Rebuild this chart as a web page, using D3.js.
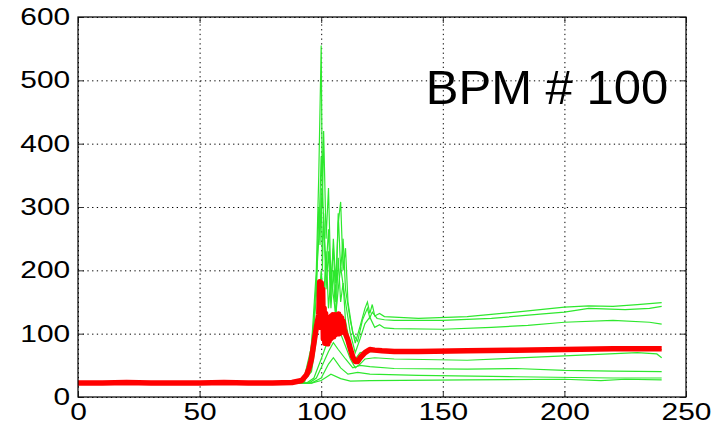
<!DOCTYPE html>
<html>
<head>
<meta charset="utf-8">
<script src="https://d3js.org/d3.v7.min.js"></script>
<style>
  body { margin: 0; background: #fff; }
  .tick text { font-family: "Liberation Sans", Arial, sans-serif; font-size: 23px; fill: #000; }
</style>
</head>
<body>
<div id="chart"></div>
<script>
// Chart size and plot area
var svgWidth = 714;
var svgHeight = 425;
var margin = { top: 17, right: 28, bottom: 28, left: 78 };
var width = svgWidth - margin.left - margin.right;
var height = svgHeight - margin.top - margin.bottom;

// Axis ticks
var xTicks = [0, 50, 100, 150, 200, 250];
var yTicks = [0, 100, 200, 300, 400, 500, 600];
var title = "BPM # 100";

// Green traces, [x, y]
var green1 = [[0, 22], [60, 22], [90, 23], [93, 30], [96, 80], [98, 200], [99, 350], [100, 555],
  [100.5, 300], [101, 420], [102, 250], [103, 330], [104, 180], [105, 235], [106, 150], [107, 290],
  [108, 200], [109, 250], [110, 170], [112, 120], [114, 85], [116, 112], [118, 140], [119, 150],
  [120, 132], [121, 146], [122, 128], [124, 132], [126, 127], [130, 126], [140, 124], [160, 127],
  [180, 134], [200, 142], [210, 144], [220, 143], [230, 146], [240, 149]];
var green2 = [[0, 22], [92, 22], [95, 50], [97, 120], [99, 250], [100, 380], [101, 280], [102, 200],
  [103, 265], [104, 160], [105, 250], [106, 180], [107, 275], [108, 308], [109, 200], [110, 235],
  [111, 150], [113, 100], [115, 88], [117, 122], [119, 140], [120, 125], [121, 134], [123, 124],
  [126, 122], [130, 121], [150, 121], [170, 124], [190, 131], [200, 134], [210, 140], [225, 138],
  [235, 140], [240, 143]];
var green3 = [[0, 22], [92, 22], [96, 40], [98, 90], [100, 200], [101, 150], [102, 230], [103, 140],
  [104, 190], [106, 130], [107, 170], [108, 205], [110, 150], [112, 100], [114, 70], [116, 92],
  [118, 116], [120, 126], [122, 110], [124, 114], [126, 109], [130, 108], [150, 107], [170, 110],
  [185, 113], [200, 118], [220, 121], [235, 118], [240, 115]];
var green4 = [[0, 22], [94, 22], [97, 30], [100, 60], [103, 92], [106, 112], [108, 100], [110, 80],
  [112, 60], [114, 46], [116, 52], [118, 60], [122, 62], [130, 60], [160, 58], [200, 65],
  [230, 70], [238, 68], [240, 62]];
var green5 = [[0, 22], [95, 22], [98, 30], [100, 46], [103, 72], [105, 86], [107, 75], [110, 60],
  [113, 46], [116, 50], [120, 48], [130, 45], [160, 44], [180, 45], [200, 42], [220, 41], [240, 40]];
var green6 = [[0, 22], [96, 22], [100, 30], [103, 52], [105, 62], [108, 46], [111, 36], [115, 39],
  [120, 36], [140, 34], [180, 32], [220, 30], [240, 30]];
var green7 = [[0, 22], [96, 22], [100, 26], [104, 36], [108, 29], [112, 25], [120, 26], [160, 27],
  [200, 28], [215, 26], [225, 28], [240, 27]];
var green8 = [[0, 22], [93, 22], [96, 60], [98, 160], [99, 300], [99.5, 240], [100, 330], [100.5, 200],
  [101, 290], [102, 170], [103, 230], [104, 140], [105, 200], [106, 120], [107, 220], [108, 150],
  [109, 180], [110, 120], [112, 80], [114, 60], [116, 70], [120, 72], [130, 70], [160, 72],
  [200, 74], [240, 75]];
var greenTraces = [green1, green2, green3, green4, green5, green6, green7, green8];

// Red mean trace
var redMean = [[0, 22], [10, 22], [20, 23], [30, 22], [40, 22], [50, 22], [60, 23], [70, 22],
  [80, 22], [88, 23], [92, 26], [94, 35], [95, 45], [96, 60], [97, 85], [98, 110], [99, 130],
  [99.4, 182], [99.7, 110], [100, 180], [100.3, 120], [100.6, 170], [100.9, 92], [101.2, 140],
  [101.5, 85], [101.8, 132], [102.1, 88], [102.4, 126], [102.7, 84], [103, 122], [103.3, 88],
  [103.6, 126], [103.9, 92], [104.2, 128], [104.5, 94], [104.8, 130], [105.1, 95], [105.4, 130],
  [105.7, 98], [106, 128], [106.3, 100], [106.6, 130], [106.9, 100], [107.2, 131], [107.5, 100],
  [107.8, 128], [108.1, 102], [108.4, 125], [108.7, 104], [109, 120], [109.5, 106], [110, 100],
  [111, 90], [112, 76], [113, 63], [114, 56], [115, 56], [116, 62], [118, 70], [120, 75],
  [122, 74], [125, 73], [130, 72], [140, 72], [160, 73], [180, 74], [200, 75], [220, 76], [240, 76]];

var svg = d3.select("#chart").append("svg")
  .attr("width", svgWidth)
  .attr("height", svgHeight)
  .style("background", "#fff");

var chartGroup = svg.append("g")
  .attr("transform", `translate(${margin.left}, ${margin.top})`);

var xScale = d3.scaleLinear().domain([0, 250]).range([0, width]);
var yScale = d3.scaleLinear().domain([0, 600]).range([height, 0]);

// Dotted grid
chartGroup.append("g")
  .attr("class", "grid")
  .attr("transform", `translate(0, ${height})`)
  .call(d3.axisBottom(xScale).tickValues(xTicks).tickSize(-height).tickFormat(""))
  .call(g => g.select(".domain").remove())
  .call(g => g.selectAll("line").attr("stroke", "#000").attr("stroke-dasharray", "1.3,3.4"));

chartGroup.append("g")
  .attr("class", "grid")
  .call(d3.axisLeft(yScale).tickValues(yTicks).tickSize(-width).tickFormat(""))
  .call(g => g.select(".domain").remove())
  .call(g => g.selectAll("line").attr("stroke", "#000").attr("stroke-dasharray", "1.3,3.4"));

// Clip for the traces
chartGroup.append("clipPath").attr("id", "plotClip")
  .append("rect").attr("width", width).attr("height", height);

var line = d3.line()
  .x(d => xScale(d[0]))
  .y(d => yScale(d[1]));

var traces = chartGroup.append("g").attr("clip-path", "url(#plotClip)");

traces.selectAll(".green")
  .data(greenTraces)
  .enter()
  .append("path")
  .attr("class", "green")
  .attr("d", line)
  .attr("fill", "none")
  .attr("stroke", "#2ee82e")
  .attr("stroke-width", 1.2);

traces.append("path")
  .datum(redMean)
  .attr("d", line)
  .attr("fill", "none")
  .attr("stroke", "#f00")
  .attr("stroke-width", 5.5)
  .attr("stroke-linejoin", "round");

// Axes with inward ticks, stretched labels
var stretch = "scale(1.3,1)";

chartGroup.append("g")
  .attr("transform", `translate(0, ${height})`)
  .call(d3.axisBottom(xScale).tickValues(xTicks).tickSizeInner(-6).tickSizeOuter(0).tickPadding(7))
  .call(g => g.select(".domain").remove())
  .call(g => g.selectAll("line").attr("stroke", "#333"))
  .call(g => g.selectAll("text").attr("transform", stretch));

chartGroup.append("g")
  .call(d3.axisLeft(yScale).tickValues(yTicks).tickSizeInner(-6).tickSizeOuter(0).tickPadding(6))
  .call(g => g.select(".domain").remove())
  .call(g => g.selectAll("line").attr("stroke", "#333"))
  .call(g => g.selectAll("text").attr("transform", stretch));

chartGroup.append("g")
  .call(d3.axisTop(xScale).tickValues(xTicks).tickSizeInner(-6).tickSizeOuter(0).tickFormat(""))
  .call(g => g.select(".domain").remove())
  .call(g => g.selectAll("line").attr("stroke", "#333"));

chartGroup.append("g")
  .attr("transform", `translate(${width}, 0)`)
  .call(d3.axisRight(yScale).tickValues(yTicks).tickSizeInner(-6).tickSizeOuter(0).tickFormat(""))
  .call(g => g.select(".domain").remove())
  .call(g => g.selectAll("line").attr("stroke", "#333"));

// Box
chartGroup.append("rect")
  .attr("width", width)
  .attr("height", height)
  .attr("fill", "none")
  .attr("stroke", "#000")
  .attr("stroke-width", 1.2);

// Label
chartGroup.append("text")
  .attr("x", xScale(143))
  .attr("y", yScale(463))
  .style("font-family", "'Liberation Sans', Arial, sans-serif")
  .style("font-size", "49px")
  .attr("fill", "#000")
  .text(title);
</script>
</body>
</html>
